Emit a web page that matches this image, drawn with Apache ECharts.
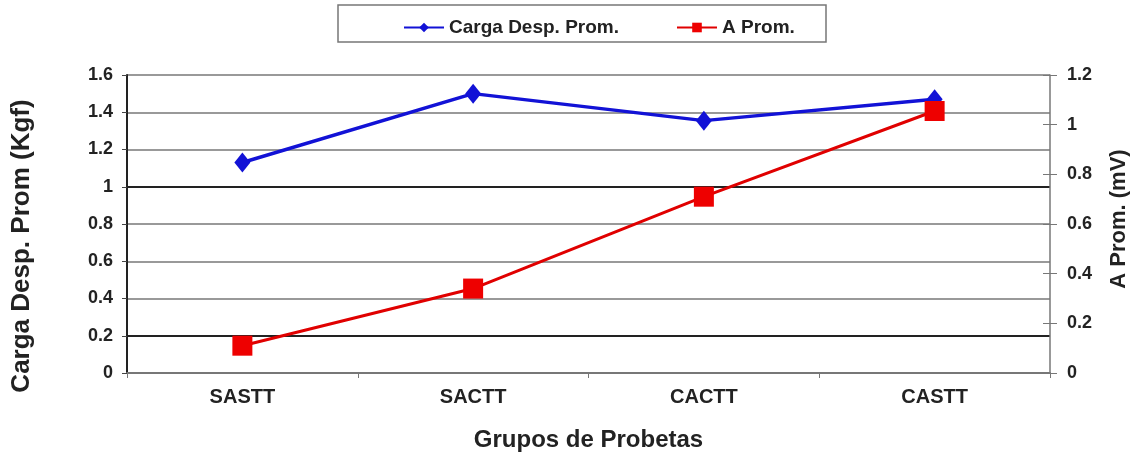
<!DOCTYPE html>
<html><head><meta charset="utf-8">
<script src="https://cdn.jsdelivr.net/npm/echarts@6/dist/echarts.min.js"></script>
<style>html,body{margin:0;padding:0;background:#fff}#c{width:1137px;height:460px}</style>
</head><body><div id="c"></div>
<script>
const categories = ['SASTT','SACTT','CACTT','CASTT'];
const cargaDesp = [1.13, 1.50, 1.355, 1.47];
const aProm = [0.11, 0.34, 0.71, 1.055];
const leftTicks = {min:0, max:1.6, interval:0.2};
const rightTicks = {min:0, max:1.2, interval:0.2};
const leftName = 'Carga Desp. Prom (Kgf)';
const rightName = 'A Prom. (mV)';
const xName = 'Grupos de Probetas';

const chart = echarts.init(document.getElementById('c'));
const font = 'Liberation Sans, Arial, sans-serif';
const fmt = v => String(Math.round(v*10)/10);
chart.setOption({
  animation:false,
  backgroundColor:'#fff',
  graphic:[
    {type:'rect', shape:{x:338,y:5,width:488,height:37}, style:{fill:'#fff', stroke:'#777', lineWidth:1.5}, z:-1},
    {type:'text', x:22, y:246, rotation:Math.PI/2, style:{text:leftName, fontFamily:font, fontWeight:'bold', fontSize:26, fill:'#222', align:'center', verticalAlign:'middle'}},
    {type:'text', x:1119, y:219, rotation:Math.PI/2, style:{text:rightName, fontFamily:font, fontWeight:'bold', fontSize:22, fill:'#222', align:'center', verticalAlign:'middle'}}
  ],
  legend:{
    top:13, left:398, itemWidth:40, itemHeight:12, itemGap:57,
    textStyle:{fontFamily:font, fontWeight:'bold', fontSize:19, color:'#222'},
    data:['Carga Desp. Prom.','A Prom.']
  },
  grid:{left:127, right:87, top:75, bottom:87},
  xAxis:{
    type:'category', data:categories, boundaryGap:true,
    name:xName, nameLocation:'middle', nameGap:55,
    nameTextStyle:{fontFamily:font, fontWeight:'bold', fontSize:24, color:'#222'},
    axisLine:{lineStyle:{color:'#777', width:2}},
    axisTick:{show:true, length:5, lineStyle:{color:'#777'}},
    axisLabel:{fontFamily:font, fontWeight:'bold', fontSize:20, color:'#222', margin:14}
  },
  yAxis:[{
    type:'value', min:leftTicks.min, max:leftTicks.max, interval:leftTicks.interval,
    axisLine:{show:true, lineStyle:{color:'#222', width:2}},
    axisTick:{show:true, length:5, lineStyle:{color:'#444'}},
    axisLabel:{fontFamily:font, fontWeight:'bold', fontSize:18, color:'#222', margin:14, formatter:fmt},
    splitLine:{show:true, lineStyle:{width:2, color:['#999','#222','#999','#999','#999','#222','#999','#999','#999']}}
  },{
    type:'value', min:rightTicks.min, max:rightTicks.max, interval:rightTicks.interval,
    position:'right',
    axisLine:{show:true, lineStyle:{color:'#777', width:1.5}},
    axisTick:{show:true, length:7, lineStyle:{color:'#777'}},
    axisLabel:{fontFamily:font, fontWeight:'bold', fontSize:18, color:'#222', margin:17, formatter:fmt},
    splitLine:{show:false}
  },{
    type:'value', min:rightTicks.min, max:rightTicks.max, interval:rightTicks.interval,
    position:'right',
    axisLine:{show:false},
    axisTick:{show:true, inside:true, length:7, lineStyle:{color:'#777'}},
    axisLabel:{show:false},
    splitLine:{show:false}
  }],
  series:[{
    name:'Carga Desp. Prom.', type:'line', yAxisIndex:0, data:cargaDesp,
    symbol:'diamond', symbolSize:[16,20],
    lineStyle:{color:'#1212d6', width:3.5}, itemStyle:{color:'#1212d6'}, z:3
  },{
    name:'A Prom.', type:'line', yAxisIndex:1, data:aProm,
    symbol:'rect', symbolSize:20,
    lineStyle:{color:'#e00000', width:3}, itemStyle:{color:'#ee0000'}, z:4
  }]
});
</script></body></html>
